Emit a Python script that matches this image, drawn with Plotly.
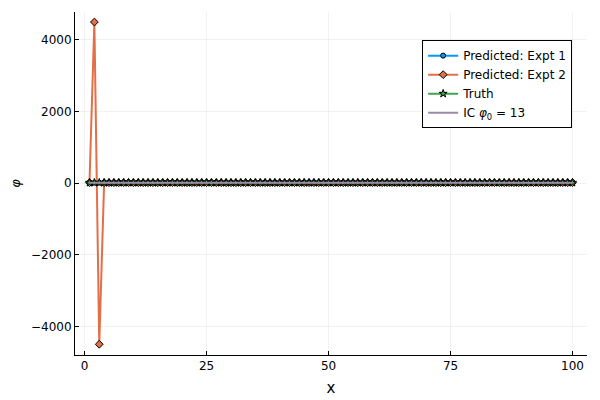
import plotly.graph_objects as go

# time steps 1..100
x = list(range(1, 101))

pred_expt1 = [
    13.0, 13.0, 13.0, 13.0, 13.0, 13.0, 13.0, 13.0, 13.0, 13.0,
    13.0, 13.0, 13.0, 13.0, 13.0, 13.0, 13.0, 13.0, 13.0, 13.0,
    13.0, 13.0, 13.0, 13.0, 13.0, 13.0, 13.0, 13.0, 13.0, 13.0,
    13.0, 13.0, 13.0, 13.0, 13.0, 13.0, 13.0, 13.0, 13.0, 13.0,
    13.0, 13.0, 13.0, 13.0, 13.0, 13.0, 13.0, 13.0, 13.0, 13.0,
    13.0, 13.0, 13.0, 13.0, 13.0, 13.0, 13.0, 13.0, 13.0, 13.0,
    13.0, 13.0, 13.0, 13.0, 13.0, 13.0, 13.0, 13.0, 13.0, 13.0,
    13.0, 13.0, 13.0, 13.0, 13.0, 13.0, 13.0, 13.0, 13.0, 13.0,
    13.0, 13.0, 13.0, 13.0, 13.0, 13.0, 13.0, 13.0, 13.0, 13.0,
    13.0, 13.0, 13.0, 13.0, 13.0, 13.0, 13.0, 13.0, 13.0, 13.0,
]

pred_expt2 = [
    13.0, 4500.0, -4500.0, 13.0, 13.0, 13.0, 13.0, 13.0, 13.0, 13.0,
    13.0, 13.0, 13.0, 13.0, 13.0, 13.0, 13.0, 13.0, 13.0, 13.0,
    13.0, 13.0, 13.0, 13.0, 13.0, 13.0, 13.0, 13.0, 13.0, 13.0,
    13.0, 13.0, 13.0, 13.0, 13.0, 13.0, 13.0, 13.0, 13.0, 13.0,
    13.0, 13.0, 13.0, 13.0, 13.0, 13.0, 13.0, 13.0, 13.0, 13.0,
    13.0, 13.0, 13.0, 13.0, 13.0, 13.0, 13.0, 13.0, 13.0, 13.0,
    13.0, 13.0, 13.0, 13.0, 13.0, 13.0, 13.0, 13.0, 13.0, 13.0,
    13.0, 13.0, 13.0, 13.0, 13.0, 13.0, 13.0, 13.0, 13.0, 13.0,
    13.0, 13.0, 13.0, 13.0, 13.0, 13.0, 13.0, 13.0, 13.0, 13.0,
    13.0, 13.0, 13.0, 13.0, 13.0, 13.0, 13.0, 13.0, 13.0, 13.0,
]

truth = [
    13.0, 13.0, 13.0, 13.0, 13.0, 13.0, 13.0, 13.0, 13.0, 13.0,
    13.0, 13.0, 13.0, 13.0, 13.0, 13.0, 13.0, 13.0, 13.0, 13.0,
    13.0, 13.0, 13.0, 13.0, 13.0, 13.0, 13.0, 13.0, 13.0, 13.0,
    13.0, 13.0, 13.0, 13.0, 13.0, 13.0, 13.0, 13.0, 13.0, 13.0,
    13.0, 13.0, 13.0, 13.0, 13.0, 13.0, 13.0, 13.0, 13.0, 13.0,
    13.0, 13.0, 13.0, 13.0, 13.0, 13.0, 13.0, 13.0, 13.0, 13.0,
    13.0, 13.0, 13.0, 13.0, 13.0, 13.0, 13.0, 13.0, 13.0, 13.0,
    13.0, 13.0, 13.0, 13.0, 13.0, 13.0, 13.0, 13.0, 13.0, 13.0,
    13.0, 13.0, 13.0, 13.0, 13.0, 13.0, 13.0, 13.0, 13.0, 13.0,
    13.0, 13.0, 13.0, 13.0, 13.0, 13.0, 13.0, 13.0, 13.0, 13.0,
]

ic_phi0 = 13.0
ic_x = [1, 100]

x_ticks = [0, 25, 50, 75, 100]
y_ticks = [-4000, -2000, 0, 2000, 4000]

FONT = "DejaVu Sans"

fig = go.Figure()

fig.add_trace(
    go.Scatter(
        x=x, y=pred_expt1, mode="lines+markers", name="Predicted: Expt 1",
        line=dict(color="#009AFA", width=2),
        marker=dict(symbol="circle", size=5, color="#009AFA",
                    line=dict(color="black", width=1)),
    )
)
fig.add_trace(
    go.Scatter(
        x=x, y=pred_expt2, mode="lines+markers", name="Predicted: Expt 2",
        line=dict(color="#E36F47", width=2),
        marker=dict(symbol="diamond", size=6, color="#E36F47",
                    line=dict(color="black", width=1)),
    )
)
fig.add_trace(
    go.Scatter(
        x=x, y=truth, mode="lines+markers", name="Truth",
        line=dict(color="#3EA44E", width=2),
        marker=dict(symbol="star", size=6, color="#3EA44E",
                    line=dict(color="black", width=1)),
    )
)
fig.add_trace(
    go.Scatter(
        x=ic_x, y=[ic_phi0, ic_phi0], mode="lines",
        name="IC <i>φ</i><sub>0</sub> = 13",
        line=dict(color="#9A8AA6", width=2),
    )
)

axis_common = dict(
    showline=True, linecolor="black", linewidth=1, mirror=False,
    ticks="inside", ticklen=4, tickcolor="black",
    showgrid=True, gridcolor="rgba(0,0,0,0.05)", gridwidth=0.5,
    zeroline=False, automargin=False,
    tickfont=dict(family=FONT, size=12, color="black"),
)

# page body has an 8px offset, so the figure is drawn slightly smaller
fig.update_layout(
    width=592, height=392,
    paper_bgcolor="white", plot_bgcolor="white",
    font=dict(family=FONT, color="black"),
    margin=dict(l=67, r=13, t=4, b=45, autoexpand=False),
    xaxis=dict(
        axis_common, range=[-1.97, 102.97], tickvals=x_ticks,
        title=dict(text="x", font=dict(family=FONT, size=15), standoff=10),
    ),
    yaxis=dict(
        axis_common, range=[-4800, 4780], tickvals=y_ticks,
        title=dict(text="<i>φ</i>", font=dict(family=FONT, size=13), standoff=22),
    ),
    legend=dict(
        x=0.971, y=0.918, xanchor="right", yanchor="top",
        bgcolor="white", bordercolor="black", borderwidth=1,
        font=dict(family=FONT, size=12),
        tracegroupgap=0, itemwidth=30,
    ),
    showlegend=True,
)

fig.write_html("out.html")
